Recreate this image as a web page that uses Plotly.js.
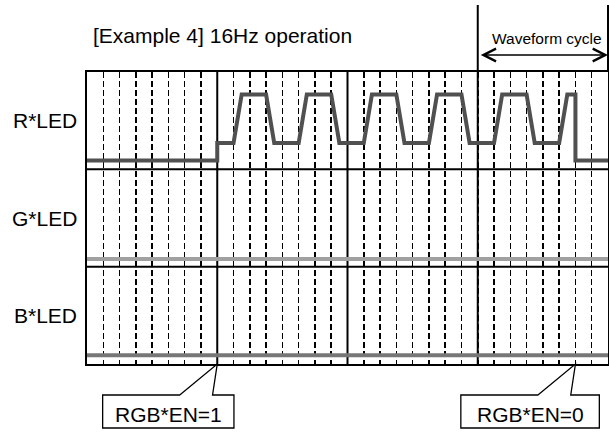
<!DOCTYPE html>
<html>
<head>
<meta charset="utf-8">
<script src="https://cdn.plot.ly/plotly-3.0.1.min.js"></script>
<style>html,body{margin:0;padding:0;background:#fff;}#chart{width:609px;height:432px;}</style>
</head>
<body>
<div id="chart"></div>
<script>
// ---- data ----
const titleText = "[Example 4] 16Hz operation";
const rowLabels = ["R*LED", "G*LED", "B*LED"];
const rowCenters = [2.5, 1.5, 0.5];
const totalUnits = 32;
const majorUnits = [8, 16, 24];

const rTime  = [0, 8, 8, 9, 9.5, 11, 11.5, 13, 13.5, 15, 15.5, 17, 17.5, 19, 19.5, 21, 21.5, 23, 23.5, 25, 25.5, 27, 27.5, 29, 29.5, 30, 30, 32];
const rLevel = [2.09, 2.09, 2.27, 2.27, 2.77, 2.77, 2.27, 2.27, 2.77, 2.77, 2.27, 2.27, 2.77, 2.77, 2.27, 2.27, 2.77, 2.77, 2.27, 2.27, 2.77, 2.77, 2.27, 2.27, 2.77, 2.77, 2.09, 2.09];
const gTime  = [0, 32];
const gLevel = [1.08, 1.08];
const bTime  = [0, 32];
const bLevel = [0.09, 0.09];

const enOnTime = 8,  enOnLabel = "RGB*EN=1";
const enOffTime = 30, enOffLabel = "RGB*EN=0";
const cycleStart = 24, cycleEnd = 32, cycleLabel = "Waveform cycle";

// ---- layout helpers ----
const W = 609, H = 432;
const M = {l: 87, r: 1, t: 72, b: 68};
const pw = W - M.l - M.r, ph = H - M.t - M.b;
const pX = X => (X - M.l) / pw;
const pY = Y => (H - M.b - Y) / ph;
const unitPx = u => M.l + u / totalUnits * pw;
const FONT = "Liberation Sans, Arial, Helvetica, sans-serif";

function callout(tipUnit, rightOff, label) {
  const tx = unitPx(tipUnit);
  const tipY = H - M.b;
  const top = 395, bot = 428;
  const left = tx - 114.6, right = tx + rightOff;
  const pts = [[tx - 37.5, top], [tx, tipY], [tx - 4.7, top], [right, top], [right, bot], [left, bot], [left, top]];
  const path = "M" + pts.map(p => pX(p[0]).toFixed(5) + "," + pY(p[1]).toFixed(5)).join(" L") + " Z";
  return {
    shape: {type: "path", xref: "paper", yref: "paper", path: path, fillcolor: "#fff", line: {color: "#000", width: 1.3}, layer: "above"},
    ann: {xref: "paper", yref: "paper", x: pX((left + right) / 2), y: pY(414.5), xanchor: "center", yanchor: "middle",
          text: label, showarrow: false, font: {family: FONT, size: 21, color: "#000"}}
  };
}

const c1 = callout(enOnTime, 16.7, enOnLabel);
const c2 = callout(enOffTime, 23.9, enOffLabel);

const traces = [
  {x: gTime, y: gLevel, mode: "lines", line: {color: "#a0a0a0", width: 4}, hoverinfo: "skip"},
  {x: bTime, y: bLevel, mode: "lines", line: {color: "#777777", width: 4}, hoverinfo: "skip"},
  {x: rTime, y: rLevel, mode: "lines", line: {color: "#505050", width: 4}, hoverinfo: "skip"}
];

const shapes = [];
majorUnits.forEach(u => shapes.push({type: "line", xref: "x", yref: "paper", x0: u, x1: u, y0: 0, y1: 1, line: {color: "#000", width: 2}, layer: "below"}));
[1, 2].forEach(v => shapes.push({type: "line", xref: "paper", yref: "y", x0: 0, x1: 1, y0: v, y1: v, line: {color: "#000", width: 2}, layer: "below"}));
[cycleStart, cycleEnd].forEach(u => shapes.push({type: "line", xref: "paper", yref: "paper", x0: u / totalUnits, x1: u / totalUnits, y0: 1, y1: pY(5), line: {color: "#000", width: 2}}));
shapes.push(c1.shape, c2.shape);

const annotations = [
  {xref: "paper", yref: "paper", x: pX(91), y: pY(36), xanchor: "left", yanchor: "middle", text: titleText, showarrow: false, font: {family: FONT, size: 21, color: "#000"}},
  {xref: "paper", yref: "paper", x: pX(547), y: pY(38.5), xanchor: "center", yanchor: "middle", text: cycleLabel, showarrow: false, font: {family: FONT, size: 15.5, color: "#000"}},
  {xref: "x", yref: "paper", x: cycleEnd, y: pY(55), axref: "x", ax: cycleStart, ayref: "pixel", ay: 0, showarrow: true, arrowside: "end+start", arrowhead: 5, arrowsize: 1.9, arrowwidth: 1.3, arrowcolor: "#000", text: " ", standoff: 0, startstandoff: 0},
  c1.ann, c2.ann
];
rowLabels.forEach((t, i) => annotations.push({xref: "paper", yref: "y", x: pX(78.5), y: rowCenters[i], xanchor: "right", yanchor: "middle", text: t, showarrow: false, font: {family: FONT, size: 21, color: "#000"}}));

const layout = {
  width: W, height: H, margin: M,
  paper_bgcolor: "#fff", plot_bgcolor: "rgba(0,0,0,0)",
  showlegend: false,
  xaxis: {range: [0, totalUnits], dtick: 1, tick0: 0, showticklabels: false, ticks: "", showgrid: true, gridcolor: "#000", gridwidth: 1.5, griddash: "6px,3px", zeroline: false, showline: true, mirror: true, linecolor: "#000", linewidth: 2, fixedrange: true},
  yaxis: {range: [0, 3], showticklabels: false, ticks: "", showgrid: false, zeroline: false, showline: true, mirror: true, linecolor: "#000", linewidth: 2, fixedrange: true},
  shapes: shapes,
  annotations: annotations
};

Plotly.newPlot("chart", traces, layout, {displayModeBar: false, staticPlot: true});
</script>
</body>
</html>
